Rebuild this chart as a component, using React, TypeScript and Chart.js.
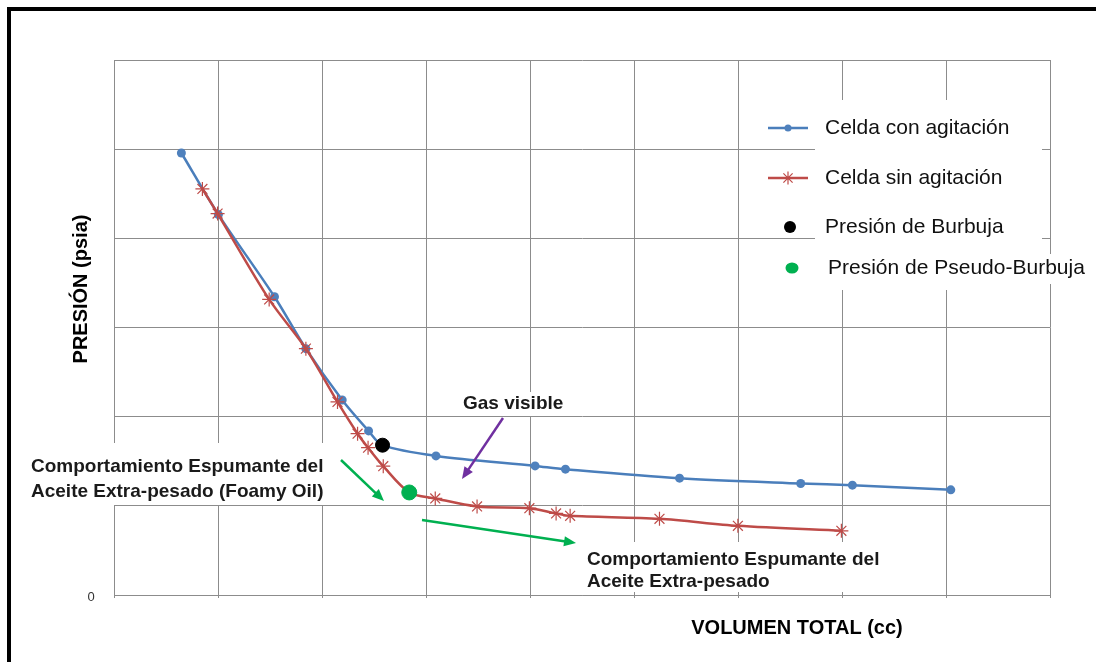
import React, { useEffect, useRef } from "react";
import { Chart, registerables } from "chart.js";

Chart.register(...registerables);

// ---- data ----
const conAgitacionX = [0.648, 1.004, 1.543, 1.845, 2.194, 2.448, 2.582, 3.096, 4.049, 4.341, 5.438, 6.603, 7.1, 8.046];
const conAgitacionY = [4.957, 4.266, 3.345, 2.763, 2.187, 1.84, 1.68, 1.56, 1.448, 1.411, 1.31, 1.251, 1.232, 1.179];

const sinAgitacionX = [0.85, 0.996, 1.492, 1.845, 2.149, 2.342, 2.443, 2.589, 2.839, 3.089, 3.491, 3.994, 4.251, 4.386, 5.245, 5.999, 6.994];
const sinAgitacionY = [4.554, 4.278, 3.315, 2.763, 2.165, 1.809, 1.652, 1.445, 1.15, 1.083, 0.993, 0.974, 0.915, 0.888, 0.855, 0.776, 0.72];

const burbujaX = [2.582];
const burbujaY = [1.68];
const pseudoX = [2.839];
const pseudoY = [1.15];

const yTickLabels = ["0"];
const seriesNames = [
  "Celda con agitación",
  "Celda sin agitación",
  "Presión de Burbuja",
  "Presión de Pseudo-Burbuja",
];
const yTitle = "PRESIÓN (psia)";
const xTitle = "VOLUMEN TOTAL (cc)";
const noteFoamy = ["Comportamiento Espumante del", "Aceite Extra-pesado (Foamy Oil)"];
const noteBottom = ["Comportamiento Espumante del", "Aceite Extra-pesado"];
const noteGas = "Gas visible";

const BLUE = "#4A7EBB";
const BLUE_PT = "#4F81BD";
const RED = "#BE4B48";
const GREEN = "#00B050";
const PURPLE = "#7030A0";
const GRID = "#8c8c8c";
const SANS = "'Liberation Sans', Arial, sans-serif";

const pts = (xs: number[], ys: number[]) => xs.map((x, i) => ({ x, y: ys[i] }));

function arrow(ctx: CanvasRenderingContext2D, x1: number, y1: number, x2: number, y2: number, color: string, w: number, head: number) {
  const a = Math.atan2(y2 - y1, x2 - x1);
  ctx.save();
  ctx.strokeStyle = color;
  ctx.fillStyle = color;
  ctx.lineWidth = w;
  ctx.beginPath();
  ctx.moveTo(x1, y1);
  ctx.lineTo(x2 - Math.cos(a) * head * 0.8, y2 - Math.sin(a) * head * 0.8);
  ctx.stroke();
  ctx.beginPath();
  ctx.moveTo(x2, y2);
  ctx.lineTo(x2 - head * Math.cos(a - 0.4), y2 - head * Math.sin(a - 0.4));
  ctx.lineTo(x2 - head * Math.cos(a + 0.4), y2 - head * Math.sin(a + 0.4));
  ctx.closePath();
  ctx.fill();
  ctx.restore();
}

function star(ctx: CanvasRenderingContext2D, x: number, y: number, r: number, color: string) {
  ctx.save();
  ctx.strokeStyle = color;
  ctx.lineWidth = 1.2;
  ctx.beginPath();
  for (let k = 0; k < 4; k++) {
    const a = (k * Math.PI) / 4;
    ctx.moveTo(x - r * Math.cos(a), y - r * Math.sin(a));
    ctx.lineTo(x + r * Math.cos(a), y + r * Math.sin(a));
  }
  ctx.stroke();
  ctx.restore();
}

const overlayPlugin = {
  id: "overlay",
  beforeDatasetsDraw(chart: any) {
    const ctx: CanvasRenderingContext2D = chart.ctx;
    ctx.save();
    ctx.fillStyle = "#ffffff";
    ctx.fillRect(815, 100, 227, 190);
    ctx.fillRect(815, 254, 280, 30);
    ctx.fillRect(26, 443, 310, 62);
    ctx.fillRect(583, 542, 308, 50);
    ctx.fillRect(460, 392, 106, 24);
    ctx.restore();
  },
  afterDraw(chart: any) {
    const ctx: CanvasRenderingContext2D = chart.ctx;
    const ys = chart.scales.y;
    const area = chart.chartArea;
    ctx.save();

    // y tick label "0"
    ctx.fillStyle = "#333";
    ctx.font = `13px ${SANS}`;
    ctx.textAlign = "center";
    ctx.textBaseline = "middle";
    ctx.fillText(yTickLabels[0], area.left - 23, ys.getPixelForValue(0) + 2);

    // axis titles
    ctx.fillStyle = "#000";
    ctx.font = `bold 20px ${SANS}`;
    ctx.fillText(xTitle, 797, 628);
    ctx.save();
    ctx.translate(81, 289);
    ctx.rotate(-Math.PI / 2);
    ctx.fillText(yTitle, 0, 0);
    ctx.restore();

    // legend
    ctx.textAlign = "left";
    ctx.textBaseline = "middle";
    ctx.font = `21px ${SANS}`;
    ctx.strokeStyle = BLUE;
    ctx.lineWidth = 2.5;
    ctx.beginPath();
    ctx.moveTo(768, 128);
    ctx.lineTo(808, 128);
    ctx.stroke();
    ctx.fillStyle = BLUE_PT;
    ctx.beginPath();
    ctx.arc(788, 128, 3.5, 0, Math.PI * 2);
    ctx.fill();
    ctx.strokeStyle = RED;
    ctx.beginPath();
    ctx.moveTo(768, 178);
    ctx.lineTo(808, 178);
    ctx.stroke();
    star(ctx, 788, 178, 6.5, RED);
    ctx.fillStyle = "#000";
    ctx.beginPath();
    ctx.arc(790, 227, 6, 0, Math.PI * 2);
    ctx.fill();
    ctx.fillStyle = GREEN;
    ctx.beginPath();
    ctx.ellipse(792, 268, 6.5, 5.5, 0, 0, Math.PI * 2);
    ctx.fill();
    ctx.fillStyle = "#111";
    ctx.fillText(seriesNames[0], 825, 128);
    ctx.fillText(seriesNames[1], 825, 178);
    ctx.fillText(seriesNames[2], 825, 227);
    ctx.fillText(seriesNames[3], 828, 268);

    // annotations
    ctx.textBaseline = "alphabetic";
    ctx.font = `bold 19px ${SANS}`;
    ctx.fillStyle = "#1a1a1a";
    ctx.fillText(noteGas, 463, 409);
    ctx.fillText(noteFoamy[0], 31, 472);
    ctx.fillText(noteFoamy[1], 31, 497);
    ctx.fillText(noteBottom[0], 587, 565);
    ctx.fillText(noteBottom[1], 587, 587);

    arrow(ctx, 503, 418, 462, 479, PURPLE, 2.5, 13);
    arrow(ctx, 341, 460, 384, 501, GREEN, 2.5, 13);
    arrow(ctx, 422, 520, 576, 543, GREEN, 2.5, 13);

    ctx.restore();
  },
};

export default function App() {
  const ref = useRef<HTMLCanvasElement | null>(null);

  useEffect(() => {
    if (!ref.current) return;
    const chart = new Chart(ref.current, {
      type: "scatter",
      data: {
        datasets: [
          {
            label: seriesNames[2],
            data: pts(burbujaX, burbujaY),
            showLine: false,
            pointRadius: 7,
            pointBackgroundColor: "#000",
            pointBorderColor: "#000",
          },
          {
            label: seriesNames[3],
            data: pts(pseudoX, pseudoY),
            showLine: false,
            pointRadius: 7.5,
            pointBackgroundColor: GREEN,
            pointBorderColor: GREEN,
          },
          {
            label: seriesNames[1],
            data: pts(sinAgitacionX, sinAgitacionY),
            showLine: true,
            borderColor: RED,
            borderWidth: 2.5,
            tension: 0.3,
            pointStyle: "star",
            pointRadius: 7,
            pointBorderWidth: 1.2,
            pointBorderColor: RED,
            pointBackgroundColor: RED,
          },
          {
            label: seriesNames[0],
            data: pts(conAgitacionX, conAgitacionY),
            showLine: true,
            borderColor: BLUE,
            borderWidth: 2.5,
            tension: 0.3,
            pointStyle: "circle",
            pointRadius: 4.5,
            pointBorderWidth: 0,
            pointBackgroundColor: BLUE_PT,
            pointBorderColor: BLUE_PT,
          },
        ],
      },
      options: {
        responsive: false,
        animation: false,
        devicePixelRatio: 1,
        layout: { padding: { left: 114, top: 60, right: 46, bottom: 64 } },
        plugins: { legend: { display: false }, tooltip: { enabled: false } },
        scales: {
          x: {
            type: "linear",
            min: 0,
            max: 9,
            ticks: { display: false, stepSize: 1 },
            grid: { color: GRID, lineWidth: 1, drawTicks: true, tickLength: 3 },
            border: { color: GRID, width: 1 },
          },
          y: {
            type: "linear",
            min: 0,
            max: 6,
            ticks: { display: false, stepSize: 1 },
            grid: { color: GRID, lineWidth: 1, drawTicks: false },
            border: { color: GRID, width: 1 },
          },
        },
      },
      plugins: [overlayPlugin],
    });
    return () => chart.destroy();
  }, []);

  return (
    <div style={{ position: "fixed", left: 0, top: 0, width: 1096, height: 662, background: "#fff" }}>
      <canvas ref={ref} width={1096} height={662} style={{ position: "absolute", left: 0, top: 0, width: 1096, height: 662 }} />
      <div
        style={{
          position: "absolute",
          left: 7,
          top: 7,
          right: 0,
          bottom: 0,
          borderTop: "4px solid #000",
          borderLeft: "4px solid #000",
          pointerEvents: "none",
        }}
      />
    </div>
  );
}
